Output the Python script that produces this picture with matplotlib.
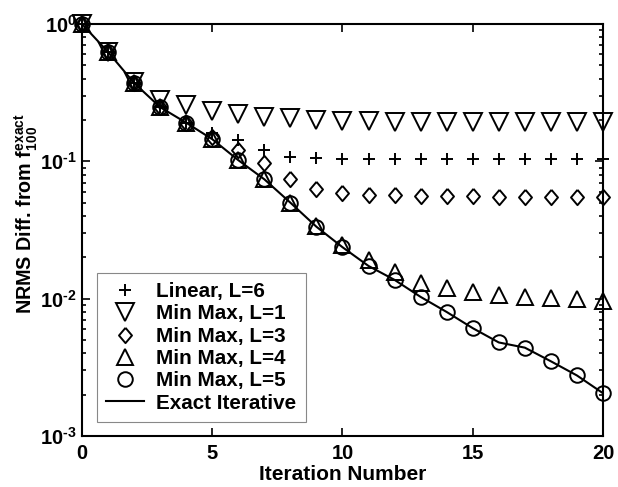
import math
import matplotlib
matplotlib.use("Agg")
import matplotlib.pyplot as plt
from matplotlib.ticker import FixedLocator, FuncFormatter, LogLocator, NullFormatter

plt.rcParams["font.family"] = ["Liberation Sans", "DejaVu Sans"]
plt.rcParams["font.weight"] = "bold"
plt.rcParams["mathtext.fontset"] = "custom"
plt.rcParams["mathtext.rm"] = "Liberation Sans"
plt.rcParams["mathtext.bf"] = "Liberation Sans:bold"
plt.rcParams["mathtext.it"] = "Liberation Sans:italic"

iterations = list(range(21))

exact_iterative = [1.0, 0.625, 0.372, 0.248, 0.191, 0.145, 0.102, 0.074, 0.050, 0.0334,
                   0.0237, 0.0173, 0.0137, 0.0103, 0.0080, 0.0061, 0.0048, 0.0044, 0.0035,
                   0.00276, 0.00205]
min_max_l5 = [1.0, 0.625, 0.372, 0.248, 0.191, 0.145, 0.102, 0.074, 0.050, 0.0334,
              0.0237, 0.0173, 0.0137, 0.0103, 0.0080, 0.0061, 0.0048, 0.0044, 0.0035,
              0.00276, 0.00205]
min_max_l4 = [1.0, 0.625, 0.372, 0.248, 0.191, 0.145, 0.102, 0.074, 0.050, 0.034,
              0.0245, 0.019, 0.0156, 0.0131, 0.0120, 0.0112, 0.0106, 0.0103, 0.0101,
              0.0099, 0.0096]
min_max_l3 = [1.0, 0.625, 0.372, 0.248, 0.191, 0.15, 0.121, 0.097, 0.074, 0.063,
              0.0585, 0.057, 0.0565, 0.056, 0.0557, 0.0555, 0.0553, 0.0552, 0.055,
              0.055, 0.055]
min_max_l1 = [1.0, 0.625, 0.38, 0.28, 0.257, 0.234, 0.221, 0.211, 0.206, 0.200,
              0.197, 0.196, 0.195, 0.195, 0.195, 0.195, 0.195, 0.195, 0.195,
              0.195, 0.195]
linear_l6 = [1.0, 0.625, 0.372, 0.248, 0.191, 0.16, 0.143, 0.121, 0.108, 0.105,
             0.104, 0.104, 0.104, 0.104, 0.104, 0.104, 0.104, 0.104, 0.104,
             0.104, 0.104]

# slightly tall diamond like the matlab one
diamond = [(0, 1), (0.85, 0), (0, -1), (-0.85, 0), (0, 1)]

fig = plt.figure(figsize=(6.18, 4.87), dpi=100)
ax = fig.add_axes([0.1327, 0.1047, 0.843, 0.846])

mk = dict(linestyle="none", color="black", markerfacecolor="none", markeredgewidth=1.4, clip_on=False)
ax.plot(iterations, linear_l6, marker="+", markersize=9, label="Linear, L=6", **mk)
ax.plot(iterations, min_max_l1, marker="v", markersize=13, label="Min Max, L=1", **mk)
ax.plot(iterations, min_max_l3, marker=diamond, markersize=11, label="Min Max, L=3", **mk)
ax.plot(iterations, min_max_l4, marker="^", markersize=11.5, label="Min Max, L=4", **mk)
ax.plot(iterations, min_max_l5, marker="o", markersize=10.5, label="Min Max, L=5", **mk)
ax.plot(iterations, exact_iterative, color="black", linewidth=1.5, label="Exact Iterative")


def decade(v, pos):
    # bold mantissa, small plain exponent with a short hyphen
    return r"$\mathbf{10}^{\text{%d}}$" % round(math.log10(v))


ax.set_yscale("log")
ax.set_xlim(0, 20)
ax.set_ylim(1e-3, 1)
ax.xaxis.set_major_locator(FixedLocator([0, 5, 10, 15, 20]))
ax.yaxis.set_major_locator(FixedLocator([1e-3, 1e-2, 1e-1, 1]))
ax.yaxis.set_minor_locator(LogLocator(base=10, subs=range(2, 10)))
ax.yaxis.set_minor_formatter(NullFormatter())
ax.yaxis.set_major_formatter(FuncFormatter(decade))

ax.tick_params(which="both", direction="in", top=True, right=True, labelsize=14.5, width=1.2)
ax.tick_params(which="major", length=6, pad=6)
ax.tick_params(axis="y", which="major", pad=4)
ax.tick_params(which="minor", length=3)
for s in ax.spines.values():
    s.set_linewidth(1.5)

ax.set_xlabel("Iteration Number", fontsize=15, fontweight="bold", labelpad=1)
ax.set_ylabel(r"NRMS Diff. from f$^{\mathregular{exact}}_{\mathregular{100}}$", fontsize=14.2,
              fontweight="bold")
ax.yaxis.set_label_coords(-0.081, 0.54)

leg = ax.legend(loc="lower left", bbox_to_anchor=(0.029, 0.034), borderaxespad=0,
                fontsize=14.9, fancybox=False, edgecolor="#888888", framealpha=1,
                labelspacing=0.16, handlelength=1.8, handletextpad=0.6, borderpad=0.45)
leg.get_frame().set_linewidth(0.8)

fig.savefig("out.png", dpi=100)
